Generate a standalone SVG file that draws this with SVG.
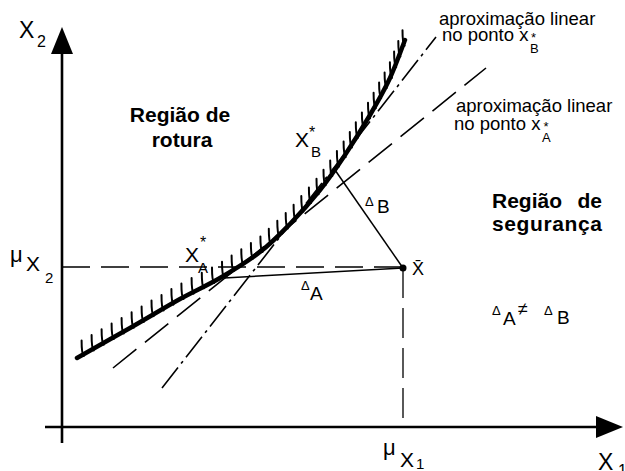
<svg xmlns="http://www.w3.org/2000/svg" width="625" height="471" viewBox="0 0 625 471">
<style>
text{font-family:"Liberation Sans",Arial,sans-serif;fill:#000}
.b{font-weight:bold;font-size:21px}
.ax{stroke:#000;stroke-width:2.6;fill:none}
.thin{stroke:#000;stroke-width:1.5;fill:none}
.dash{stroke:#000;stroke-width:1.3;fill:none;stroke-dasharray:28 11}
.tanA{stroke:#000;stroke-width:1.6;fill:none;stroke-dasharray:30 11}
.tanB{stroke:#000;stroke-width:1.6;fill:none;stroke-dasharray:26 5 3 5}
.ann{font-size:18.5px}
</style>
<defs>
<marker id="arrow" markerUnits="userSpaceOnUse" orient="auto" markerWidth="30" markerHeight="24" refX="0" refY="0" viewBox="0 -12 30 24" style="overflow:visible">
<path d="M0,-11 L27,0 L0,11 z" fill="#000"/>
</marker>
<marker id="hatch" markerUnits="userSpaceOnUse" orient="0" markerWidth="4" markerHeight="16" refX="0" refY="0" style="overflow:visible">
<path d="M-0.6,-14.5 C-0.6,-6 -0.3,-1 1.5,1" stroke="#000" stroke-width="2" fill="none" stroke-linecap="round"/>
</marker>
</defs>

<g id="axes">
<line class="ax" x1="62" y1="443" x2="62" y2="54" marker-end="url(#arrow)"/>
<line class="ax" x1="45" y1="427" x2="596" y2="427" marker-end="url(#arrow)"/>
<text x="19" y="38" font-size="23">X<tspan x="37" y="47" font-size="16">2</tspan></text>
<text x="598" y="470" font-size="23">X<tspan x="618" y="476" font-size="16">1</tspan></text>
</g>

<g id="connectors">
<line class="dash" x1="62" y1="267" x2="403" y2="267"/>
<line class="dash" x1="403" y1="268" x2="403" y2="427" style="stroke-dasharray:30 10"/>
<line class="tanA" x1="113" y1="368" x2="486" y2="68"/>
<line class="tanB" x1="162" y1="388" x2="436" y2="37"/>
<line class="thin" x1="224" y1="278" x2="403" y2="268"/>
<line class="thin" x1="335" y1="170" x2="403" y2="268"/>
</g>

<g id="limit-curve">
<path d="M77,358 C85.8,353 112.8,337.8 130,328 C147.2,318.2 165,307.3 180,299 C195,290.7 206.7,285.8 220,278 C233.3,270.2 248.3,261 260,252 C271.7,243 280,234.3 290,224 C300,213.7 310.8,201.5 320,190 C329.2,178.5 336.7,167.5 345,155 C353.3,142.5 362.5,127.8 370,115 C377.5,102.2 384.2,90.5 390,78 C395.8,65.5 402.5,46.3 405,40" stroke="#000" stroke-width="4.5" fill="none" stroke-linecap="round"/>
<polyline fill="none" stroke="none" marker-start="url(#hatch)" marker-mid="url(#hatch)" marker-end="url(#hatch)" points="82.2,355 92.2,349.4 102.2,343.7 112.2,338 122.2,332.4 132.2,326.7 142.2,320.9 152.1,315.1 162.1,309.4 172,303.6 182,297.9 192.2,292.6 202.4,287.2 212.6,281.9 222.6,276.3 232.2,270 241.9,263.8 251.5,257.5 261,251 269.4,243.2 277.9,235.3 286.3,227.5 294.2,219.2 301.9,210.6 309.5,201.9 317.1,193.3 324.1,184.2 330.8,174.9 337.5,165.5 344.2,156.1 350.4,146.4 356.4,136.7 362.5,127 368.6,117.2 374.2,107.2 379.7,97.1 385.2,87 390.5,76.8 394.7,66.1 398.9,55.4 403.1,44.7"/>
</g>

<g id="point-xbar">
<circle cx="403" cy="268" r="3.5" fill="#000"/>
<text x="412" y="275" font-size="18">X̄</text>
</g>

<g id="labels">
<text class="b" x="180" y="122" text-anchor="middle">Região de</text>
<text class="b" x="182" y="147" text-anchor="middle">rotura</text>
<text class="b" x="492" y="208">Região</text>
<text class="b" x="602" y="208" text-anchor="end">de</text>
<text class="b" x="492" y="231" textLength="110" lengthAdjust="spacing">segurança</text>

<text x="10" y="262" font-size="22">μ<tspan x="26" y="271" font-size="21">X</tspan><tspan x="45" y="283" font-size="15">2</tspan></text>
<text x="383" y="455" font-size="22">μ<tspan x="400" y="467" font-size="21">X</tspan><tspan x="416" y="469" font-size="15">1</tspan></text>

<text x="185" y="262" font-size="21">X<tspan x="198" y="273" font-size="15">A</tspan><tspan x="200" y="248" font-size="16">*</tspan></text>
<text x="295" y="147" font-size="21">X<tspan x="311" y="157" font-size="15">B</tspan><tspan x="309" y="138" font-size="16">*</tspan></text>

<text x="365" y="206" font-size="13">Δ<tspan x="377" y="213" font-size="19">B</tspan></text>
<text x="301" y="290" font-size="13">Δ<tspan x="310" y="300" font-size="19">A</tspan></text>

<text x="492" y="315" font-size="13">Δ<tspan x="503" y="325" font-size="19">A</tspan><tspan x="518" y="315" font-size="18">≠</tspan><tspan x="544" y="315" font-size="13">Δ</tspan><tspan x="557" y="324" font-size="19">B</tspan></text>

<text class="ann" x="439" y="25">aproximação linear</text>
<text class="ann" x="442" y="41">no ponto x<tspan x="530" y="53" font-size="13">B</tspan><tspan x="531" y="42" font-size="13">*</tspan></text>
<text class="ann" x="456" y="112">aproximação linear</text>
<text class="ann" x="454" y="130">no ponto x<tspan x="542" y="142" font-size="13">A</tspan><tspan x="543.5" y="131" font-size="13">*</tspan></text>
</g>
</svg>
